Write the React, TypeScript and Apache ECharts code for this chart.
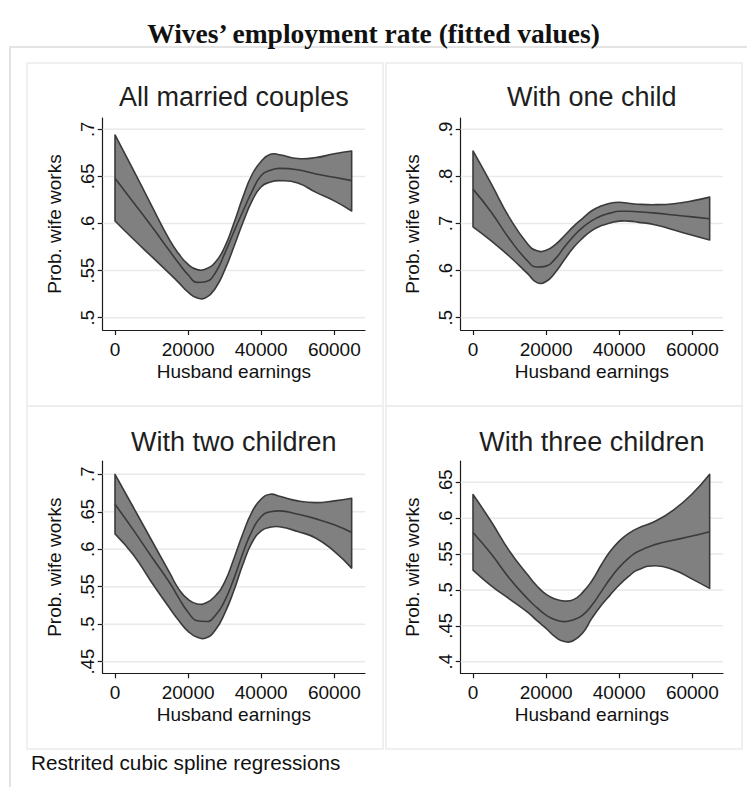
import React, { useEffect, useRef } from "react";
import * as echarts from "echarts";

// ---------- data ----------
const earnings = [0, 5000, 10000, 15000, 17500, 20000, 22500, 25000, 27500, 30000, 32500, 35000, 37500, 40000, 42500, 45000, 50000, 55000, 60000, 64750];
const xTicks = [0, 20000, 40000, 60000];

const allUpper = [0.694, 0.657, 0.619, 0.582, 0.5675, 0.5565, 0.551, 0.552, 0.559, 0.575, 0.6, 0.628, 0.652, 0.666, 0.6735, 0.673, 0.669, 0.67, 0.674, 0.677];
const allFit = [0.648, 0.6225, 0.597, 0.5705, 0.5575, 0.5455, 0.5375, 0.5385, 0.548, 0.568, 0.591, 0.613, 0.634, 0.651, 0.6565, 0.6585, 0.657, 0.6526, 0.649, 0.6455];
const allLower = [0.6027, 0.5835, 0.565, 0.5465, 0.537, 0.527, 0.521, 0.5215, 0.5315, 0.5505, 0.575, 0.601, 0.624, 0.639, 0.644, 0.6455, 0.643, 0.633, 0.624, 0.6133];
const allTicks = [0.5, 0.55, 0.6, 0.65, 0.7];

const oneUpper = [0.854, 0.784, 0.712, 0.656, 0.642, 0.643, 0.655, 0.674, 0.694, 0.711, 0.727, 0.737, 0.743, 0.745, 0.743, 0.741, 0.74, 0.742, 0.748, 0.756];
const oneFit = [0.773, 0.724, 0.667, 0.62, 0.6075, 0.6095, 0.625, 0.65, 0.673, 0.692, 0.706, 0.716, 0.722, 0.726, 0.726, 0.725, 0.722, 0.718, 0.714, 0.71];
const oneLower = [0.693, 0.663, 0.63, 0.593, 0.5745, 0.577, 0.596, 0.623, 0.649, 0.669, 0.685, 0.695, 0.701, 0.705, 0.705, 0.703, 0.697, 0.686, 0.675, 0.665];
const oneTicks = [0.5, 0.6, 0.7, 0.8, 0.9];

const twoUpper = [0.7, 0.656, 0.612, 0.568, 0.5465, 0.533, 0.527, 0.5285, 0.538, 0.556, 0.587, 0.621, 0.65, 0.667, 0.6733, 0.6707, 0.6645, 0.6622, 0.6645, 0.668];
const twoFit = [0.66, 0.6258, 0.59, 0.555, 0.5345, 0.516, 0.5045, 0.5035, 0.512, 0.531, 0.5605, 0.595, 0.6245, 0.6436, 0.65, 0.6512, 0.6467, 0.6405, 0.6325, 0.6223];
const twoLower = [0.6205, 0.5925, 0.556, 0.521, 0.5045, 0.4905, 0.4825, 0.482, 0.4925, 0.5145, 0.5445, 0.58, 0.609, 0.6245, 0.6294, 0.63, 0.6236, 0.6147, 0.597, 0.5748];
const twoTicks = [0.45, 0.5, 0.55, 0.6, 0.65, 0.7];

const threeUpper = [0.633, 0.595, 0.554, 0.5207, 0.5054, 0.4938, 0.4873, 0.4845, 0.4865, 0.4966, 0.5124, 0.534, 0.5535, 0.5681, 0.5784, 0.5858, 0.596, 0.612, 0.634, 0.6612];
const threeFit = [0.58, 0.55, 0.516, 0.4873, 0.4752, 0.4649, 0.4584, 0.4558, 0.4585, 0.465, 0.4785, 0.497, 0.5155, 0.5315, 0.544, 0.5533, 0.5635, 0.5696, 0.5751, 0.5812];
const threeLower = [0.5277, 0.5058, 0.4873, 0.4687, 0.4572, 0.4465, 0.4345, 0.428, 0.4295, 0.44, 0.4603, 0.478, 0.4928, 0.5068, 0.5184, 0.5277, 0.5338, 0.5277, 0.5151, 0.5021];
const threeTicks = [0.4, 0.45, 0.5, 0.55, 0.6, 0.65];

const panelTitles = ["All married couples", "With one child", "With two children", "With three children"];
const mainTitle = "Wives\u2019 employment rate (fitted values)";
const note = "Restrited cubic spline regressions";
const xName = "Husband earnings";
const yName = "Prob. wife works";

// ---------- layout ----------
const panels = [
  { title: panelTitles[0], upper: allUpper, fit: allFit, lower: allLower, ticks: allTicks, yMin: 0.4869, yMax: 0.712, left: 102.7, top: 118, h: 212, titleY: 97, box: [27, 63] },
  { title: panelTitles[1], upper: oneUpper, fit: oneFit, lower: oneLower, ticks: oneTicks, yMin: 0.4739, yMax: 0.924, left: 460.7, top: 118, h: 212, titleY: 97, box: [386, 63] },
  { title: panelTitles[2], upper: twoUpper, fit: twoFit, lower: twoLower, ticks: twoTicks, yMin: 0.4345, yMax: 0.7177, left: 102.7, top: 461, h: 212.3, titleY: 442, box: [27, 406] },
  { title: panelTitles[3], upper: threeUpper, fit: threeFit, lower: threeLower, ticks: threeTicks, yMin: 0.3838, yMax: 0.6797, left: 460.7, top: 461, h: 212.3, titleY: 442, box: [386, 406] },
];
const plotW = 262.3;
const xMin = -3370;
const xMax = 68400;
const SMOOTH = 0.5;

const FONT = "'Liberation Sans', Arial, sans-serif";
const LINE = "#3a3a3a";
const FILL = "#808080";
const GRIDC = "#e9e9e9";
const AXIS = "#1a1a1a";
const TXT = "#111";

const fmt = (v: number) => String(+v.toFixed(3)).replace(/^0\./, ".");

// smooth path through pixel points (same rule as ECharts' smoothed lines)
function smoothSeg(pts: number[][], s: number): string {
  const n = pts.length;
  const cOut: number[][] = [];
  const cIn: number[][] = [];
  for (let i = 0; i < n; i++) {
    const p = pts[i];
    if (i === 0 || i === n - 1) {
      cOut[i] = p;
      cIn[i] = p;
      continue;
    }
    const pr = pts[i - 1];
    const nx = pts[i + 1];
    const vx = nx[0] - pr[0];
    const vy = nx[1] - pr[1];
    const l0 = Math.hypot(p[0] - pr[0], p[1] - pr[1]);
    const l1 = Math.hypot(nx[0] - p[0], nx[1] - p[1]);
    const r = l0 + l1 > 0 ? l1 / (l0 + l1) : 0.5;
    cOut[i] = [p[0] + vx * s * r, p[1] + vy * s * r];
    cIn[i] = [p[0] - vx * s * (1 - r), p[1] - vy * s * (1 - r)];
  }
  let d = "";
  for (let i = 0; i < n - 1; i++) {
    d += ` C${cOut[i][0]},${cOut[i][1]} ${cIn[i + 1][0]},${cIn[i + 1][1]} ${pts[i + 1][0]},${pts[i + 1][1]}`;
  }
  return d;
}

export default function App() {
  const ref = useRef<HTMLDivElement>(null);
  useEffect(() => {
    if (!ref.current) return;
    const chart = echarts.init(ref.current, null, { renderer: "svg" });
    const grids: any[] = [];
    const xAxes: any[] = [];
    const yAxes: any[] = [];
    const series: any[] = [];
    const graphics: any[] = [];

    graphics.push({
      type: "rect",
      shape: { x: 10, y: 47, width: 800, height: 800 },
      style: { fill: "none", stroke: "#e4e4e4", lineWidth: 2 },
      silent: true,
    });

    panels.forEach((p, i) => {
      graphics.push({
        type: "rect",
        shape: { x: p.box[0], y: p.box[1], width: 356, height: 343 },
        style: { fill: "none", stroke: "#ececec", lineWidth: 1.5 },
        silent: true,
      });
      graphics.push({
        type: "text",
        x: p.left + plotW / 2,
        y: p.titleY,
        style: { text: p.title, fontFamily: FONT, fontSize: 27, fill: "#1e1e1e", textAlign: "center", textVerticalAlign: "middle" },
        silent: true,
      });
      grids.push({ left: p.left, top: p.top, width: plotW, height: p.h, containLabel: false });
      xAxes.push({
        gridIndex: i,
        type: "value",
        min: xMin,
        max: xMax,
        axisLine: { show: true, onZero: false, lineStyle: { color: AXIS, width: 1.2 } },
        axisTick: { show: true, customValues: xTicks, length: 5, lineStyle: { color: AXIS, width: 1.2 } },
        axisLabel: { customValues: xTicks, fontSize: 19, color: TXT, margin: 10, fontFamily: FONT, formatter: (v: number) => String(v) },
        splitLine: { show: false },
        name: xName,
        nameLocation: "middle",
        nameGap: 32,
        nameTextStyle: { fontSize: 19, color: TXT, fontFamily: FONT },
      });
      yAxes.push({
        gridIndex: i,
        type: "value",
        min: p.yMin,
        max: p.yMax,
        axisLine: { show: true, onZero: false, lineStyle: { color: AXIS, width: 1.2 } },
        axisTick: { show: true, customValues: p.ticks, length: 5, lineStyle: { color: AXIS, width: 1.2 } },
        axisLabel: { customValues: p.ticks, rotate: 90, fontSize: 18.5, color: TXT, margin: 6, fontFamily: FONT, formatter: (v: number) => fmt(v) },
        splitLine: { show: false },
        name: yName,
        nameLocation: "middle",
        nameGap: 39,
        nameRotate: 90,
        nameTextStyle: { fontSize: 19, color: TXT, fontFamily: FONT },
      });
      // horizontal gridlines at the y ticks
      p.ticks.forEach((t) => {
        series.push({
          type: "line",
          xAxisIndex: i,
          yAxisIndex: i,
          data: [
            [xMin, t],
            [xMax, t],
          ],
          symbol: "none",
          lineStyle: { color: GRIDC, width: 1.5 },
          silent: true,
          z: 1,
        });
      });
      // confidence band (filled, outlined)
      const up = p.upper;
      const lo = p.lower;
      series.push({
        type: "custom",
        xAxisIndex: i,
        yAxisIndex: i,
        data: earnings.map((x, k) => [x, lo[k], up[k]]),
        encode: { x: 0, y: [1, 2] },
        silent: true,
        z: 2,
        renderItem: (params: any, api: any) => {
          if (params.dataIndex !== 0) return null;
          const upPts = earnings.map((x, k) => api.coord([x, up[k]]));
          const loPts = earnings.map((x, k) => api.coord([x, lo[k]])).reverse();
          let d = `M${upPts[0][0]},${upPts[0][1]}` + smoothSeg(upPts, SMOOTH);
          d += ` L${loPts[0][0]},${loPts[0][1]}` + smoothSeg(loPts, SMOOTH) + " Z";
          return {
            type: "path",
            shape: { pathData: d },
            style: { fill: FILL, stroke: LINE, lineWidth: 1.6, lineJoin: "round" },
          };
        },
      });
      // fitted line
      series.push({
        type: "line",
        xAxisIndex: i,
        yAxisIndex: i,
        data: earnings.map((x, k) => [x, p.fit[k]]),
        symbol: "none",
        smooth: SMOOTH,
        lineStyle: { color: LINE, width: 1.6 },
        silent: true,
        z: 3,
      });
    });

    graphics.push({
      type: "text",
      x: 373.5,
      y: 33,
      style: { text: mainTitle, fontFamily: "'Liberation Serif', 'DejaVu Serif', serif", fontWeight: "bold", fontSize: 27.5, fill: "#111", textAlign: "center", textVerticalAlign: "middle" },
      silent: true,
    });
    graphics.push({
      type: "text",
      x: 31,
      y: 762,
      style: { text: note, fontFamily: FONT, fontSize: 20.7, fill: "#111", textAlign: "left", textVerticalAlign: "middle" },
      silent: true,
    });

    chart.setOption({
      animation: false,
      backgroundColor: "#ffffff",
      textStyle: { fontFamily: FONT },
      grid: grids,
      xAxis: xAxes,
      yAxis: yAxes,
      series,
      graphic: graphics,
    });
    return () => chart.dispose();
  }, []);
  return <div ref={ref} style={{ position: "fixed", left: 0, top: 0, width: 747, height: 787 }} />;
}
